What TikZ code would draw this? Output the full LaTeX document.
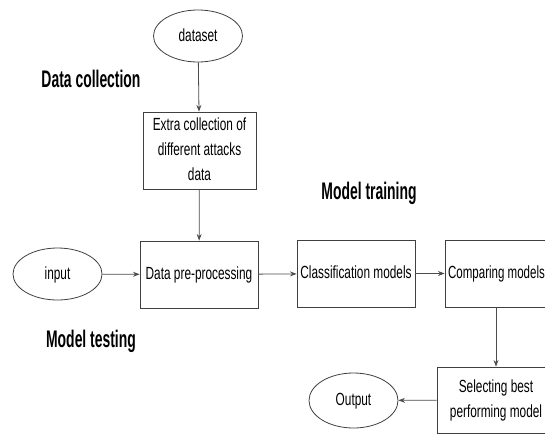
\documentclass[tikz,border=0pt]{standalone}
\usepackage{fontspec}
\setmainfont{Liberation Sans}
\usepackage{graphicx}
\usetikzlibrary{arrows.meta}
\usetikzlibrary{shapes.geometric}
\tikzset{>=Stealth}
\newcommand{\sketchtxt}[2][0.74]{\scalebox{#1}[1.1]{\begin{tabular}{@{}c@{}}#2\end{tabular}}}

\begin{document}
\begin{tikzpicture}[x=1pt,y=-1pt]
  \tikzstyle{unit}=[draw=black!75,line width=0.8pt,minimum width=118pt,minimum height=67pt,inner sep=0pt,font=\fontsize{16}{23}\selectfont]
  \tikzstyle{term}=[draw=black!75,line width=0.8pt,ellipse,minimum width=89pt,minimum height=52pt,inner sep=0pt,font=\fontsize{16}{23}\selectfont]
  \tikzstyle{stage}=[anchor=base,font=\fontsize{24}{24}\selectfont\bfseries]
  \tikzstyle{link}=[->,draw=black!70,line width=0.8pt]
  \clip (0,0) rectangle (545,434);
  % nodes
  \node[term](dataset) at (198,36){\sketchtxt{dataset}};
  \node[unit,minimum width=113pt,minimum height=77pt](collect) at (199.5,150.5){\sketchtxt{Extra collection of\\different attacks\\data}};
  \node[term](input) at (57.5,274){\sketchtxt{input}};
  \node[unit](pre) at (199,274.5){\sketchtxt{Data pre-processing}};
  \node[unit](cls) at (356,273.5){\sketchtxt{Classification models}};
  \node[unit,minimum width=103pt](comp) at (496.5,273.5){\sketchtxt[0.72]{Comparing models}};
  \node[unit,minimum height=66pt](sel) at (496,400){\sketchtxt{Selecting best\\performing model}};
  \node[term,minimum height=55pt](output) at (353.5,400.5){\sketchtxt{Output}};
  % stage labels
  \node[stage](collab) at (91,87){\scalebox{0.58}[1]{Data collection}};
  \node[stage](trainlab) at (369,199){\scalebox{0.58}[1]{Model training}};
  \node[stage](testlab) at (91,347){\scalebox{0.58}[1]{Model testing}};
  % connectors
  \draw[link] (dataset) -- (collect);
  \draw[link] (collect) -- (pre);
  \draw[link] (input) -- (pre);
  \draw[link] (pre) -- (cls);
  \draw[link] (cls) -- (comp);
  \draw[link] (comp.south -| sel.north) -- (sel.north);
  \draw[link] (sel) -- (output);
\end{tikzpicture}
\end{document}
